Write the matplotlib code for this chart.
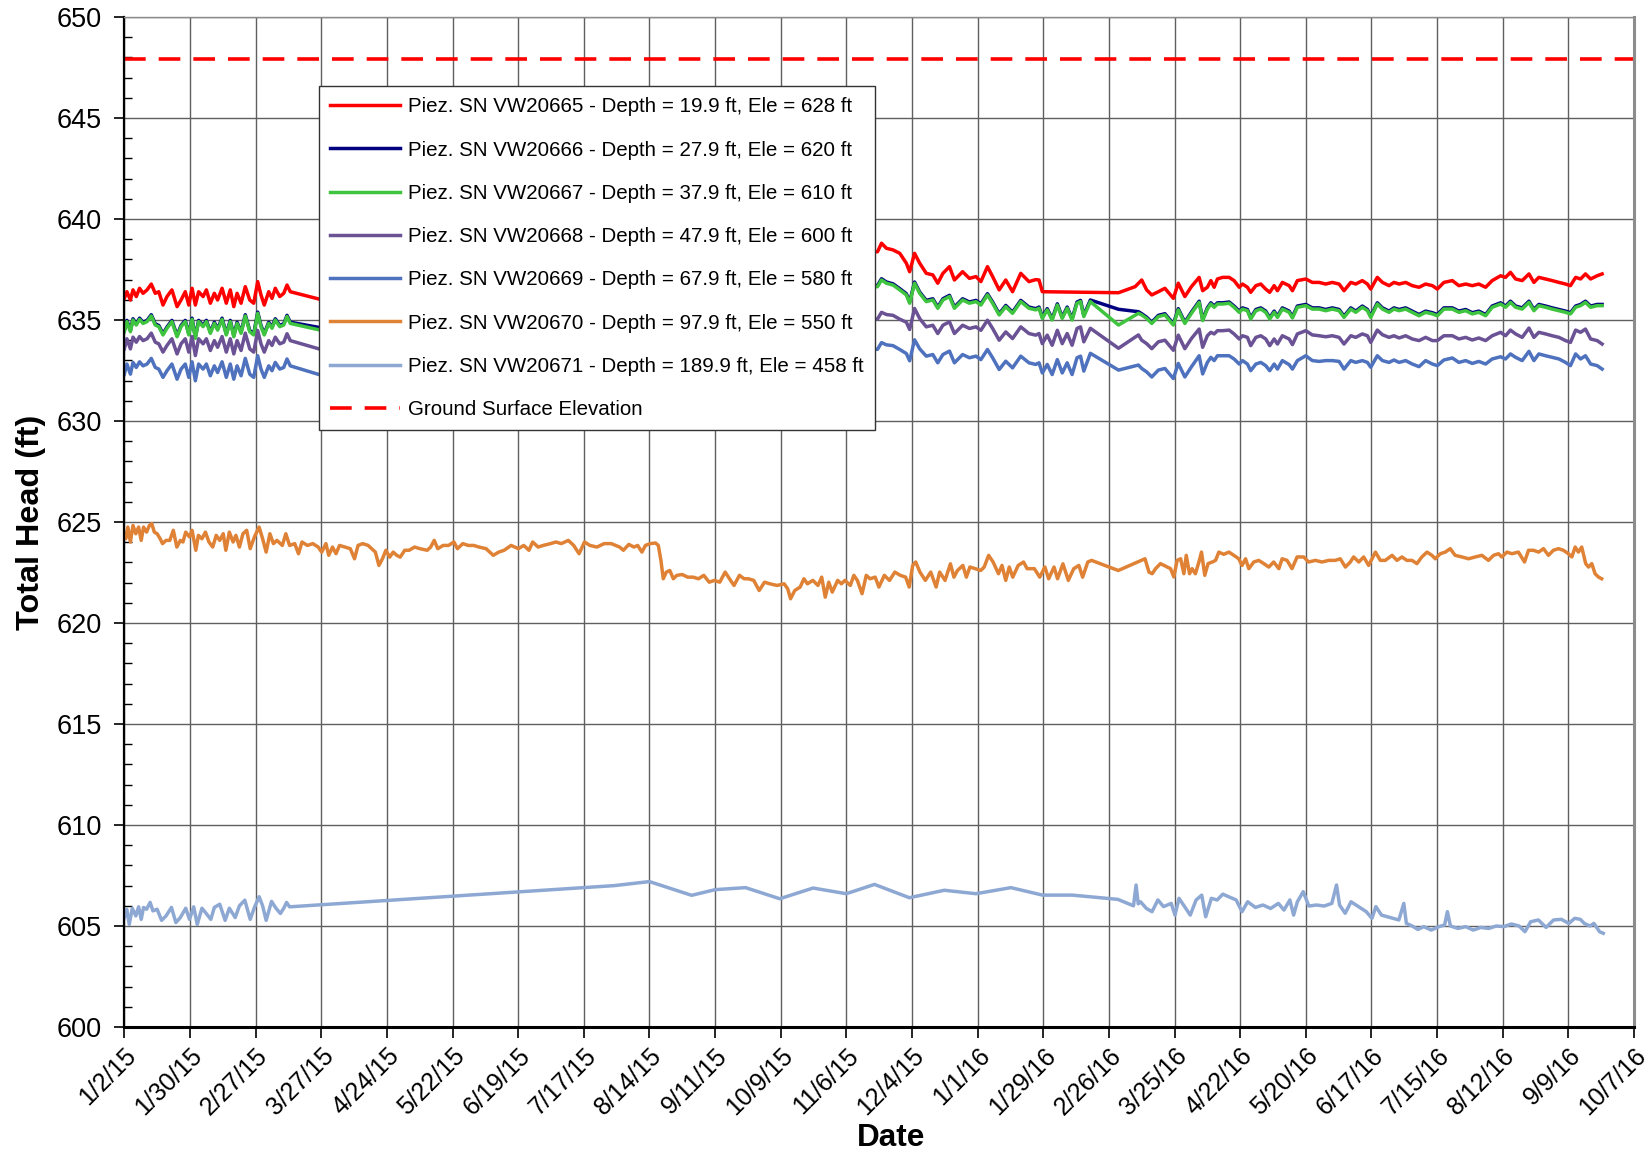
import matplotlib
matplotlib.use("Agg")
import matplotlib.pyplot as plt
from matplotlib.ticker import MultipleLocator

plt.rcParams['font.family'] = ['Liberation Sans', 'DejaVu Sans']

# ---------------- data (x = days since 1/2/15) ----------------
x_tick_labels = ["1/2/15", "1/30/15", "2/27/15", "3/27/15", "4/24/15", "5/22/15", "6/19/15",
                 "7/17/15", "8/14/15", "9/11/15", "10/9/15", "11/6/15", "12/4/15", "1/1/16",
                 "1/29/16", "2/26/16", "3/25/16", "4/22/16", "5/20/16", "6/17/16", "7/15/16",
                 "8/12/16", "9/9/16", "10/7/16"]
x_tick_days = [28 * i for i in range(len(x_tick_labels))]

labels = ["Piez. SN VW20665 - Depth = 19.9 ft, Ele = 628 ft",
          "Piez. SN VW20666 - Depth = 27.9 ft, Ele = 620 ft",
          "Piez. SN VW20667 - Depth = 37.9 ft, Ele = 610 ft",
          "Piez. SN VW20668 - Depth = 47.9 ft, Ele = 600 ft",
          "Piez. SN VW20669 - Depth = 67.9 ft, Ele = 580 ft",
          "Piez. SN VW20670 - Depth = 97.9 ft, Ele = 550 ft",
          "Piez. SN VW20671 - Depth = 189.9 ft, Ele = 458 ft",
          "Ground Surface Elevation"]
ground_surface = 647.9

# early period (shared days for upper five piezometers)
early_days = [0, 1.1, 2.6, 3.7, 5.1, 6.5, 8, 9.7, 11.5, 13.2, 14.7, 16.5, 18.2, 20.3, 22.5, 24.2,
              26, 27.5, 28.9, 30.3, 31.7, 33.6, 35, 36.7, 38.4, 39.8, 41.7, 43.5, 45.2, 46.7, 48.1,
              49.8, 51.6, 53.5, 55.2, 56.9, 58.3, 59.7, 61.6, 63, 64.4, 66.3, 68, 69.4, 70.8, 83.6]
red_early = [636.07, 636.4, 635.99, 636.49, 636.16, 636.57, 636.32, 636.49, 636.78, 636.32, 636.4,
             635.74, 636.16, 636.49, 635.66, 635.99, 636.4, 635.74, 636.57, 635.74, 636.4, 636.16,
             636.49, 635.83, 636.32, 635.99, 636.57, 635.83, 636.49, 635.66, 636.32, 635.83, 636.65,
             635.99, 635.83, 636.9, 636.24, 635.74, 636.4, 636.07, 636.57, 636.16, 636.32, 636.73,
             636.4, 636.02]
green_early = [634.42, 634.92, 634.42, 635.0, 634.75, 635.03, 634.83, 634.92, 635.2, 634.75, 634.67,
               634.26, 634.59, 634.92, 634.17, 634.67, 634.92, 634.26, 635.03, 634.09, 634.92, 634.67,
               634.92, 634.34, 634.83, 634.5, 635.03, 634.26, 634.92, 634.17, 634.83, 634.34, 635.2,
               634.42, 634.26, 635.33, 634.67, 634.26, 634.83, 634.59, 635.0, 634.67, 634.75, 635.17,
               634.83, 634.5]
navy_early = [634.48, 634.98, 634.48, 635.06, 634.81, 635.09, 634.89, 634.98, 635.26, 634.81, 634.73,
              634.32, 634.65, 634.98, 634.23, 634.73, 634.98, 634.32, 635.09, 634.15, 634.98, 634.73,
              634.98, 634.4, 634.89, 634.56, 635.09, 634.32, 634.98, 634.23, 634.89, 634.4, 635.26,
              634.48, 634.32, 635.39, 634.73, 634.32, 634.89, 634.65, 635.06, 634.73, 634.81, 635.23,
              634.89, 634.62]
purple_early = [633.57, 634.07, 633.57, 634.15, 633.9, 634.18, 633.98, 634.07, 634.35, 633.9, 633.82,
                633.41, 633.74, 634.07, 633.32, 633.82, 634.07, 633.41, 634.18, 633.24, 634.07, 633.82,
                634.07, 633.49, 633.98, 633.65, 634.18, 633.41, 634.07, 633.32, 633.98, 633.49, 634.35,
                633.57, 633.41, 634.48, 633.82, 633.41, 633.98, 633.74, 634.15, 633.82, 633.9, 634.32,
                633.98, 633.55]
blue_early = [632.32, 632.82, 632.32, 632.9, 632.65, 632.93, 632.73, 632.82, 633.1, 632.65, 632.57,
              632.16, 632.49, 632.82, 632.07, 632.57, 632.82, 632.16, 632.93, 631.99, 632.82, 632.57,
              632.82, 632.24, 632.73, 632.4, 632.93, 632.16, 632.82, 632.07, 632.73, 632.24, 633.1,
              632.32, 632.16, 633.23, 632.57, 632.16, 632.73, 632.49, 632.9, 632.57, 632.65, 633.07,
              632.73, 632.28]

# late period (days shared by navy, green, purple, blue)
late_days = [321.3, 323, 325.1, 327.9, 330.8, 333.6, 335, 337.1, 339.3, 342.1, 344.9, 347, 349.2, 352,
             354.1, 357.6, 360.5, 363.3, 365.4, 368.2, 370.4, 373.2, 376, 378.9, 382.4, 385.9, 388.8,
             390.2, 391.6, 393.7, 395.8, 398, 400.1, 402.2, 404.3, 406.4, 407.9, 409.3, 412.1, 424.1,
             432.6, 434, 436.1, 438.3, 441.1, 443.9, 447.5, 449.6, 452.4, 455.2,
             458.5, 460, 462, 463.5, 464.9, 466.3, 468.5, 471.3, 473.4, 475.6, 477, 479.1, 480.5, 482.7,
             484.8, 486.9, 488.6, 490.5, 491.9, 494, 496.9, 498.3, 500.4, 504, 506.8, 509.7, 512.5,
             515.3, 518.2, 520.3, 523.2, 525.3, 528.1, 530.3, 531.7, 534.5, 536.7, 539.5, 541.6, 543.8,
             546.6, 549.4, 552.3, 555.1, 558, 560.1, 562.9, 566.5, 569.3, 572.2, 575, 577.8, 580.7,
             583.5, 587.1, 589.2, 591.3, 593.5, 596.3, 599.2, 601.3, 603.4, 606.3, 609.1, 612, 614.8,
             616.9, 619.1, 621.2, 623.3, 625.5, 628.3, 630.4]
green_late = [636.65, 636.98, 636.82, 636.73, 636.49, 636.24, 635.83, 636.82, 636.32, 635.91,
              635.99, 635.58, 635.99, 636.16, 635.58, 635.99, 635.83, 635.91, 635.74, 636.24,
              635.83, 635.25, 635.66, 635.33, 635.91, 635.58, 635.5, 635.58, 635.08, 635.5,
              635.0, 635.74, 635.08, 635.58, 635.0, 635.83, 635.91, 635.17, 635.91, 634.75,
              635.33, 635.25, 635.08, 634.83, 635.17, 635.25, 634.75, 635.5, 634.83, 635.33,
              635.87, 634.97, 635.54, 635.79, 635.63, 635.79, 635.79, 635.83, 635.63, 635.38,
              635.54, 635.46, 635.05, 635.46, 635.54, 635.38, 635.05, 635.38, 635.13, 635.54,
              635.38, 635.1, 635.63, 635.71, 635.54, 635.54, 635.46, 635.54, 635.46, 635.13,
              635.54, 635.38, 635.63, 635.46, 635.13, 635.79, 635.54, 635.38, 635.54, 635.46,
              635.54, 635.38, 635.21, 635.38, 635.3, 635.21, 635.54, 635.54, 635.38, 635.46,
              635.3, 635.38, 635.21, 635.63, 635.79, 635.63, 635.87, 635.63, 635.54, 635.87,
              635.46, 635.71, 635.63, 635.54, 635.46, 635.38, 635.3, 635.63, 635.71, 635.87,
              635.63, 635.71, 635.71]
navy_late = [636.71, 637.04, 636.88, 636.79, 636.55, 636.3, 635.89, 636.88, 636.38, 635.97,
             636.05, 635.64, 636.05, 636.22, 635.64, 636.05, 635.89, 635.97, 635.8, 636.3,
             635.89, 635.31, 635.72, 635.39, 635.97, 635.64, 635.56, 635.64, 635.14, 635.56,
             635.06, 635.8, 635.14, 635.64, 635.06, 635.89, 635.97, 635.23, 635.99, 635.53,
             635.41, 635.31, 635.14, 634.89, 635.23, 635.31, 634.81, 635.56, 634.89, 635.39,
             635.93, 635.03, 635.6, 635.85, 635.69, 635.85, 635.85, 635.89, 635.69, 635.44,
             635.6, 635.52, 635.11, 635.52, 635.6, 635.44, 635.11, 635.44, 635.19, 635.6,
             635.44, 635.16, 635.69, 635.77, 635.6, 635.6, 635.52, 635.6, 635.52, 635.19,
             635.6, 635.44, 635.69, 635.52, 635.19, 635.85, 635.6, 635.44, 635.6, 635.52,
             635.6, 635.44, 635.27, 635.44, 635.36, 635.27, 635.6, 635.6, 635.44, 635.52,
             635.36, 635.44, 635.27, 635.69, 635.85, 635.69, 635.93, 635.69, 635.6, 635.93,
             635.52, 635.77, 635.69, 635.6, 635.52, 635.44, 635.36, 635.69, 635.77, 635.93,
             635.69, 635.77, 635.77]
purple_late = [635.05, 635.38, 635.27, 635.23, 635.04, 634.89, 634.53, 635.57, 635.07, 634.66,
               634.74, 634.33, 634.74, 634.91, 634.33, 634.74, 634.58, 634.66, 634.49, 634.99,
               634.58, 634.0, 634.41, 634.08, 634.66, 634.33, 634.25, 634.33, 633.83, 634.25,
               633.75, 634.49, 633.83, 634.33, 633.75, 634.58, 634.66, 633.92, 634.59, 633.6,
               634.26, 634.0, 633.83, 633.58, 633.92, 634.0, 633.5, 634.25, 633.58, 634.08,
               634.55, 633.65, 634.22, 634.39, 634.31, 634.47, 634.47, 634.5, 634.31, 634.06,
               634.22, 634.14, 633.73, 634.14, 634.22, 634.06, 633.73, 634.06, 633.81, 634.22,
               634.06, 633.78, 634.31, 634.47, 634.26, 634.22, 634.17, 634.22, 634.14, 633.81,
               634.22, 634.14, 634.31, 634.22, 633.89, 634.5, 634.27, 634.14, 634.22, 634.11,
               634.22, 634.06, 633.98, 634.14, 633.98, 633.98, 634.22, 634.22, 634.06, 634.14,
               634.01, 634.11, 633.98, 634.22, 634.39, 634.22, 634.5, 634.31, 634.14, 634.6,
               634.14, 634.39, 634.31, 634.22, 634.14, 633.98, 633.89, 634.5, 634.39, 634.55,
               634.06, 633.98, 633.81]
blue_late = [633.55, 633.88, 633.77, 633.73, 633.54, 633.34, 632.98, 634.02, 633.57, 633.21,
             633.29, 632.88, 633.29, 633.46, 632.88, 633.29, 633.13, 633.21, 633.04, 633.54,
             633.13, 632.55, 632.96, 632.63, 633.21, 632.88, 632.8, 632.88, 632.38, 632.8,
             632.3, 633.04, 632.38, 632.88, 632.3, 633.13, 633.21, 632.47, 633.35, 632.52,
             632.77, 632.6, 632.43, 632.18, 632.52, 632.6, 632.1, 632.85, 632.18, 632.68,
             633.23, 632.33, 632.9, 633.15, 632.99, 633.23, 633.23, 633.23, 633.07, 632.82,
             632.99, 632.82, 632.49, 632.82, 632.9, 632.74, 632.49, 632.82, 632.57, 632.99,
             632.79, 632.57, 632.99, 633.23, 632.99, 632.95, 632.99, 632.99, 632.95, 632.57,
             632.99, 632.9, 632.99, 632.9, 632.66, 633.23, 632.99, 632.9, 633.02, 632.9,
             632.99, 632.82, 632.69, 632.99, 632.82, 632.74, 633.02, 633.12, 632.9, 632.99,
             632.85, 632.95, 632.82, 633.07, 633.18, 633.07, 633.32, 633.15, 632.99, 633.45,
             632.99, 633.32, 633.23, 633.15, 633.07, 632.9, 632.74, 633.32, 633.07, 633.23,
             632.82, 632.74, 632.57]

red_late_days = [321.3, 323, 325.1, 327.9, 330.8, 333.6, 335, 337.1, 339.3, 342.1, 344.9, 347, 349.2,
                 352, 354.1, 357.6, 360.5, 363.3, 365.4, 368.2, 370.4, 373.2, 376, 378.9, 382.4, 385.9,
                 388.8, 390.2, 391.6, 424.1, 431.2, 434, 436.1, 438.3, 441.1, 443.9, 447.5, 449.6,
                 452.4, 455.2,
                 458.5, 460, 462, 463.5, 464.9, 466.3, 468.5, 471.3, 473.4, 475.6, 477, 479.1, 480.5,
                 482.7, 484.8, 486.9, 488.6, 490.5, 491.9, 494, 496.9, 498.3, 500.4, 504, 506.8, 509.7,
                 512.5, 515.3, 518.2, 520.3, 523.2, 525.3, 528.1, 530.3, 531.7, 534.5, 536.7, 539.5,
                 541.6, 543.8, 546.6, 549.4, 552.3, 555.1, 558, 560.1, 562.9, 566.5, 569.3, 572.2, 575,
                 577.8, 580.7, 583.5, 587.1, 589.2, 591.3, 593.5, 596.3, 599.2, 601.3, 603.4, 606.3,
                 609.1, 612, 614.8, 616.9, 619.1, 621.2, 623.3, 625.5, 628.3, 630.4]
red_late = [638.38, 638.8, 638.55, 638.47, 638.3, 637.81, 637.39, 638.3, 637.81, 637.31,
            637.23, 636.82, 637.31, 637.64, 636.98, 637.39, 637.06, 637.15, 636.9, 637.64,
            637.15, 636.49, 636.98, 636.4, 637.31, 636.9, 637.0, 636.98, 636.4, 636.35,
            636.65, 636.98, 636.49, 636.24, 636.4, 636.57, 636.07, 636.82, 636.16, 636.65,
            637.11, 636.45, 636.62, 636.95, 636.62, 637.03, 637.11, 637.11, 636.95, 636.62,
            636.78, 636.62, 636.37, 636.7, 636.78, 636.53, 636.37, 636.7, 636.45, 636.86,
            636.7, 636.45, 636.95, 637.03, 636.86, 636.86, 636.78, 636.86, 636.78, 636.45,
            636.86, 636.78, 636.95, 636.78, 636.53, 637.11, 636.86, 636.7, 636.86, 636.78,
            636.86, 636.7, 636.62, 636.78, 636.7, 636.53, 636.86, 636.95, 636.7, 636.78,
            636.7, 636.78, 636.62, 636.95, 637.19, 637.11, 637.36, 637.03, 636.95, 637.28,
            636.86, 637.11, 637.03, 636.95, 636.86, 636.78, 636.7, 637.11, 637.03, 637.28,
            637.03, 637.19, 637.28]

orange_days = [0, 0.6, 1.5, 2.6, 3.7, 4.9, 6.1, 7.2, 8.2, 9.5, 10.7, 11.7, 12.8, 14, 15.3, 16.3, 17.8,
               19.4, 20.9, 22.4, 23.9, 25, 26.2, 27.8, 28.9, 30.5, 31.6, 33.1, 34.6, 36.1, 37.7, 39.2,
               40.7, 42.2, 43.3, 44.8, 46.4, 47.6, 49.1, 50.6, 52.2, 53.7, 55.5, 57.5, 59, 60.5, 62.1,
               63.6, 65.1, 67.4, 68.9, 70.5, 72.7, 74.3, 75.8, 78.1, 80.4, 82.7, 84.2, 86, 87.2, 88.8,
               90.3, 91.8, 94.1, 96.4, 98.2, 99.7, 101.7, 104, 105.5, 107.1, 108.6, 110.1, 111.6,
               113.2, 114.7, 116.2, 117.7, 119.6, 121.5, 123.8, 126.1, 129.2, 130.7, 132.2, 133.7,
               136, 138.3, 140.6, 142.1, 144.4, 146.7, 149, 151.3, 154.3, 157.4, 159.7, 162, 165,
               168.1, 170.4, 172.6, 174.2, 176.5, 178.7, 181.8, 184.1, 186.4, 189.4, 191.7, 194,
               196.3, 198.6, 201.6, 204.7, 207.7,
               211.3, 212.9, 215.2, 217.4, 219, 220.8, 222.3, 224.3, 226.6, 227.8, 228.9, 229.9, 231.2,
               232.7, 234.2, 235.7, 238, 240.3, 242.6, 244.9, 247.2, 249.5, 251.7, 254, 256.3, 258.6,
               260.1, 262.4, 264.4, 266.2, 268.5, 270.8, 273.1, 275.4, 278.4, 281.5, 283, 284.2, 286,
               288.3, 289.9, 291.4, 293.7, 295.9, 297.5, 299, 300.5, 302, 304.3, 305.9, 307.4, 309.7,
               311.2, 312.7, 314.7, 316.5, 318.1, 320.3, 321.9, 324.2, 326.4, 328.7, 331, 333.3,
               334.8, 336.3, 337.6, 339.4, 341.7, 344, 346.3, 347.8, 350.1, 352.4, 353.9, 355.4,
               357.7, 359.2, 360.7, 363, 365.3, 366.8, 368.7, 370.6, 372.9, 374.4, 376, 377.5, 379,
               381.3, 383.6, 385.1, 388.2, 390.5, 392.7, 394.3, 396.6, 398.1, 400.4, 402.7, 405,
               407.2, 408.8, 411, 412.6, 424, 435.4,
               437.1, 438.5, 439.9, 442, 444.2, 446.3, 447.7, 449.1, 450.6, 452, 453, 454.4, 455.5,
               456.9, 458.4, 459.5, 460.9, 462.3, 464.1, 465.5, 466.9, 469, 471.2, 473.3, 475.4,
               476.8, 478.3, 479.7, 481.8, 483.9, 486.1, 488.2, 490.3, 492.5, 493.9, 496, 498.1,
               500.3, 503.1, 505.2, 508.1, 510.9, 513.8, 516.6, 518.7, 520.9, 523, 524.4, 526.6,
               528.7, 530.8, 533.7, 535.8, 537.9, 540.8, 542.9, 545, 547.1, 549.3, 551.4, 553.5,
               555.7, 557.8, 559.2, 561.4, 563.5, 565.6, 567.7, 570.6, 573.4, 576.3, 579.1, 581.9,
               584.1, 586.2, 587.6, 589.8, 591.9, 594.7, 597.3, 599, 601.1, 603.3, 605.4, 607.5,
               609.6, 611.8, 613.9, 616, 617.5, 618.9, 620.3, 621.7, 623.4, 624.6, 626, 627.4,
               628.8, 630.2]
orange_vals = [624.42, 624.17, 624.75, 624.01, 624.83, 624.42, 624.75, 624.09, 624.75, 624.5,
               624.83, 624.92, 624.5, 624.42, 624.17, 623.93, 624.09, 624.09, 624.59, 623.76,
               624.09, 624.01, 624.5, 624.26, 624.59, 623.6, 624.34, 624.17, 624.5, 624.01,
               623.76, 624.34, 624.09, 624.42, 623.6, 624.5, 624.01, 624.34, 623.76, 624.42,
               624.59, 623.68, 624.26, 624.75, 624.17, 623.51, 624.42, 623.93, 624.09, 623.84,
               624.42, 623.84, 623.93, 623.43, 624.01, 623.84, 623.93, 623.76, 623.51, 623.93,
               623.35, 623.76, 623.43, 623.84, 623.76, 623.68, 623.18, 623.84, 623.93, 623.84,
               623.68, 623.51, 622.85, 623.18, 623.6, 623.26, 623.51, 623.35, 623.26, 623.6,
               623.6, 623.76, 623.68, 623.6, 623.76, 624.09, 623.68, 623.84, 623.84, 624.01,
               623.68, 623.93, 623.84, 623.84, 623.76, 623.68, 623.35, 623.51, 623.6, 623.84,
               623.68, 623.84, 623.6, 624.01, 623.76, 623.84, 623.93, 624.01, 623.93, 624.09,
               623.84, 623.43, 624.01, 623.84, 623.76, 623.93, 623.93,
               623.76, 623.6, 623.89, 623.76, 623.84, 623.51, 623.84, 623.93, 623.96, 623.84,
               623.1, 622.19, 622.52, 622.6, 622.19, 622.36, 622.4, 622.27, 622.27, 622.19,
               622.36, 622.02, 622.11, 622.02, 622.52, 622.11, 621.86, 622.36, 622.19, 622.19,
               622.11, 621.61, 622.02, 621.94, 621.86, 621.94, 621.69, 621.2, 621.61, 621.78,
               622.19, 621.94, 622.11, 621.86, 622.27, 621.28, 622.02, 621.53, 622.11, 621.94,
               622.11, 621.86, 622.36, 622.11, 621.45, 622.36, 622.19, 622.27, 621.78, 622.36,
               622.11, 622.52, 622.36, 622.27, 621.78, 622.85, 623.02, 622.52, 622.11, 622.52,
               621.78, 622.52, 622.11, 622.93, 622.27, 622.6, 622.85, 622.27, 622.77, 622.69,
               622.6, 622.77, 623.35, 623.02, 622.44, 622.85, 622.11, 622.77, 622.27, 622.85,
               623.02, 622.69, 622.69, 622.27, 622.77, 622.19, 622.77, 622.19, 622.93, 622.11,
               622.69, 622.85, 622.27, 623.02, 623.1, 622.6, 623.18,
               622.52, 622.44, 622.69, 622.94, 622.81, 622.69, 622.28, 623.1, 623.18, 622.44,
               623.35, 622.44, 622.69, 622.44, 623.02, 623.51, 622.36, 622.94, 623.02, 623.1,
               623.51, 623.4, 623.51, 623.35, 623.18, 622.85, 623.18, 622.69, 623.02, 623.1,
               622.94, 622.77, 623.02, 622.69, 623.18, 623.1, 622.69, 623.27, 623.27, 623.02,
               623.1, 623.02, 623.1, 623.1, 623.18, 622.77, 623.02, 623.27, 623.02, 623.27,
               622.85, 623.51, 623.1, 623.1, 623.35, 623.1, 623.27, 623.1, 623.1, 622.94,
               623.27, 623.51, 623.35, 623.18, 623.43, 623.51, 623.68, 623.35, 623.27, 623.18,
               623.27, 623.35, 623.1, 623.35, 623.43, 623.27, 623.51, 623.43, 623.51, 623.02,
               623.6, 623.6, 623.51, 623.68, 623.35, 623.6, 623.68, 623.6, 623.43, 623.27,
               623.76, 623.51, 623.76, 622.94, 622.77, 622.94, 622.44, 622.28, 622.19]

ltblue_days = [0, 1.07, 2.1, 3.4, 4.9, 6.1, 7.2, 8.2, 9.5, 11, 12.2, 14, 15.9, 17.8, 20.1, 22, 23.9,
               26.2, 27.8, 29.6, 31.1, 33.1, 34.6, 36.9, 38.4, 40.7, 43, 44.8, 47.3, 49.1, 51.4, 53.7,
               55.5, 57.5, 59, 60.5, 62.8, 64.7, 66.6, 68.2, 69.2, 70.5,
               209, 224, 242, 252, 265, 279.6, 293.8, 308, 320, 334.9, 349.8, 363.3, 378.2, 391.7,
               404.4, 423.8, 430.5, 431.6, 432.5, 433.5, 436, 438.4, 440.9, 443.3, 446.6, 448.2,
               449.9, 452.3, 454.7, 457.2, 459.6, 461.3, 463.7, 466.2, 468.6, 471.1, 474.3, 476.8,
               479.2, 482.5, 485.7, 489, 492.3, 494.7, 497.2, 498.8, 500.4, 502.9, 505.3, 508.6,
               511.8, 515.1, 517.1, 518.4, 520.8, 523.3, 526.5, 529.8, 532.2, 533.9, 536.3, 538.8,
               541.2, 543.7, 545.8, 546.9, 549.4, 551.8, 554.3, 557.5, 560.8, 563.2, 564.4, 565.7,
               568.9, 572.2, 575.4, 578.7, 582, 585.2, 588.5, 591.7, 595, 597.5, 599.9, 603.2,
               606.5, 609.7, 613, 616.2, 618.7, 621.1, 622.8, 625.2, 626.9, 629.3, 630.9]
ltblue_vals = [605.42, 605.83, 605.08, 605.88, 605.5, 605.95, 605.33, 605.92, 605.83, 606.17,
               605.75, 605.83, 605.28, 605.5, 605.92, 605.17, 605.42, 605.88, 605.33, 605.95,
               605.08, 605.88, 605.67, 605.33, 605.92, 606.08, 605.28, 605.88, 605.42, 606.0,
               606.28, 605.33, 605.92, 606.45, 606.0, 605.28, 606.22, 605.88, 605.62, 605.92,
               606.17, 605.95,
               607.0, 607.2, 606.52, 606.8, 606.9, 606.35, 606.88, 606.6,
               607.06, 606.4, 606.77, 606.6, 606.9, 606.53, 606.53, 606.32, 606.0, 607.03,
               606.1, 606.2, 605.87, 605.71, 606.29, 605.96, 606.12, 605.54, 606.37, 605.96,
               605.54, 606.29, 606.53, 605.46, 606.37, 606.29, 606.58, 606.45, 606.29, 605.71,
               606.2, 605.92, 606.04, 605.87, 606.12, 605.79, 606.29, 605.54, 606.2, 606.7,
               605.99, 606.04, 605.99, 606.12, 607.03, 606.04, 605.63, 606.2, 605.96, 605.71,
               605.38, 605.96, 605.54, 605.46, 605.38, 605.3, 606.12, 605.13, 605.0, 604.83,
               604.97, 604.8, 604.97, 605.05, 605.71, 605.0, 604.88, 604.97, 604.8, 604.93,
               604.88, 605.0, 604.97, 605.1, 605.0, 604.72, 605.21, 605.3, 604.93, 605.3,
               605.33, 605.13, 605.38, 605.33, 605.13, 605.0, 605.13, 604.72, 604.64]

colors = ["#FF0000", "#000080", "#3EC43E", "#6A5295", "#4F72BE", "#DF8236", "#8EA8D4"]

# ---------------- figure ----------------
fig = plt.figure(figsize=(16.51, 11.55), dpi=100)
ax = fig.add_axes([0.0753, 0.1108, 0.9144, 0.8745])

series = [
    (early_days + red_late_days, red_early + red_late),
    (early_days + late_days, navy_early + navy_late),
    (early_days + late_days, green_early + green_late),
    (early_days + late_days, purple_early + purple_late),
    (early_days + late_days, blue_early + blue_late),
    (orange_days, orange_vals),
    (ltblue_days, ltblue_vals),
]
handles = []
for (xs, ys), c, lab in zip(series, colors, labels[:7]):
    n = min(len(xs), len(ys))
    h, = ax.plot(xs[:n], ys[:n], color=c, lw=2.5, label=lab, solid_joinstyle='round')
    handles.append(h)
gs = ax.axhline(ground_surface, color="#FF0000", lw=2.6, dashes=(6, 3.6), label=labels[7])
handles.append(gs)

ax.set_xlim(0, 644)
ax.set_ylim(600, 650)
ax.set_xticks(x_tick_days)
ax.set_xticklabels(x_tick_labels, rotation=45, ha='right', va='top',
                   rotation_mode='anchor', fontsize=18)
ax.yaxis.set_major_locator(MultipleLocator(5))
ax.yaxis.set_minor_locator(MultipleLocator(1))
ax.tick_params(axis='y', which='major', labelsize=19.5, direction='out', length=7, width=1.2, pad=9)
ax.tick_params(axis='y', which='minor', direction='in', length=6, width=1)
ax.tick_params(axis='x', which='major', direction='out', length=8, width=1.2, pad=4)
ax.grid(True, which='major', color='#5f5f5f', lw=1.0)
ax.set_axisbelow(True)

for side in ['left', 'bottom']:
    ax.spines[side].set_color('black')
ax.spines['left'].set_linewidth(1.6)
ax.spines['bottom'].set_linewidth(2.2)
ax.spines['top'].set_color('#8c8c8c')
ax.spines['top'].set_linewidth(1.0)
ax.spines['right'].set_color('#8c8c8c')
ax.spines['right'].set_linewidth(2.2)

ax.set_xlabel("Date", fontsize=22.7, fontweight='bold', labelpad=2)
ax.xaxis.label.set_x(0.508)
ax.set_ylabel("Total Head (ft)", fontsize=23.3, fontweight='bold', labelpad=8)

leg = ax.legend(handles=handles, loc='upper left', bbox_to_anchor=(0.1290, 0.9317),
                fontsize=14.8, frameon=True, fancybox=False, framealpha=1, edgecolor='#333333',
                handlelength=3.4, handletextpad=0.4, labelspacing=1.18, borderpad=0.55,
                borderaxespad=0)
leg.get_frame().set_linewidth(1.0)

fig.savefig("out.png", dpi=100)
